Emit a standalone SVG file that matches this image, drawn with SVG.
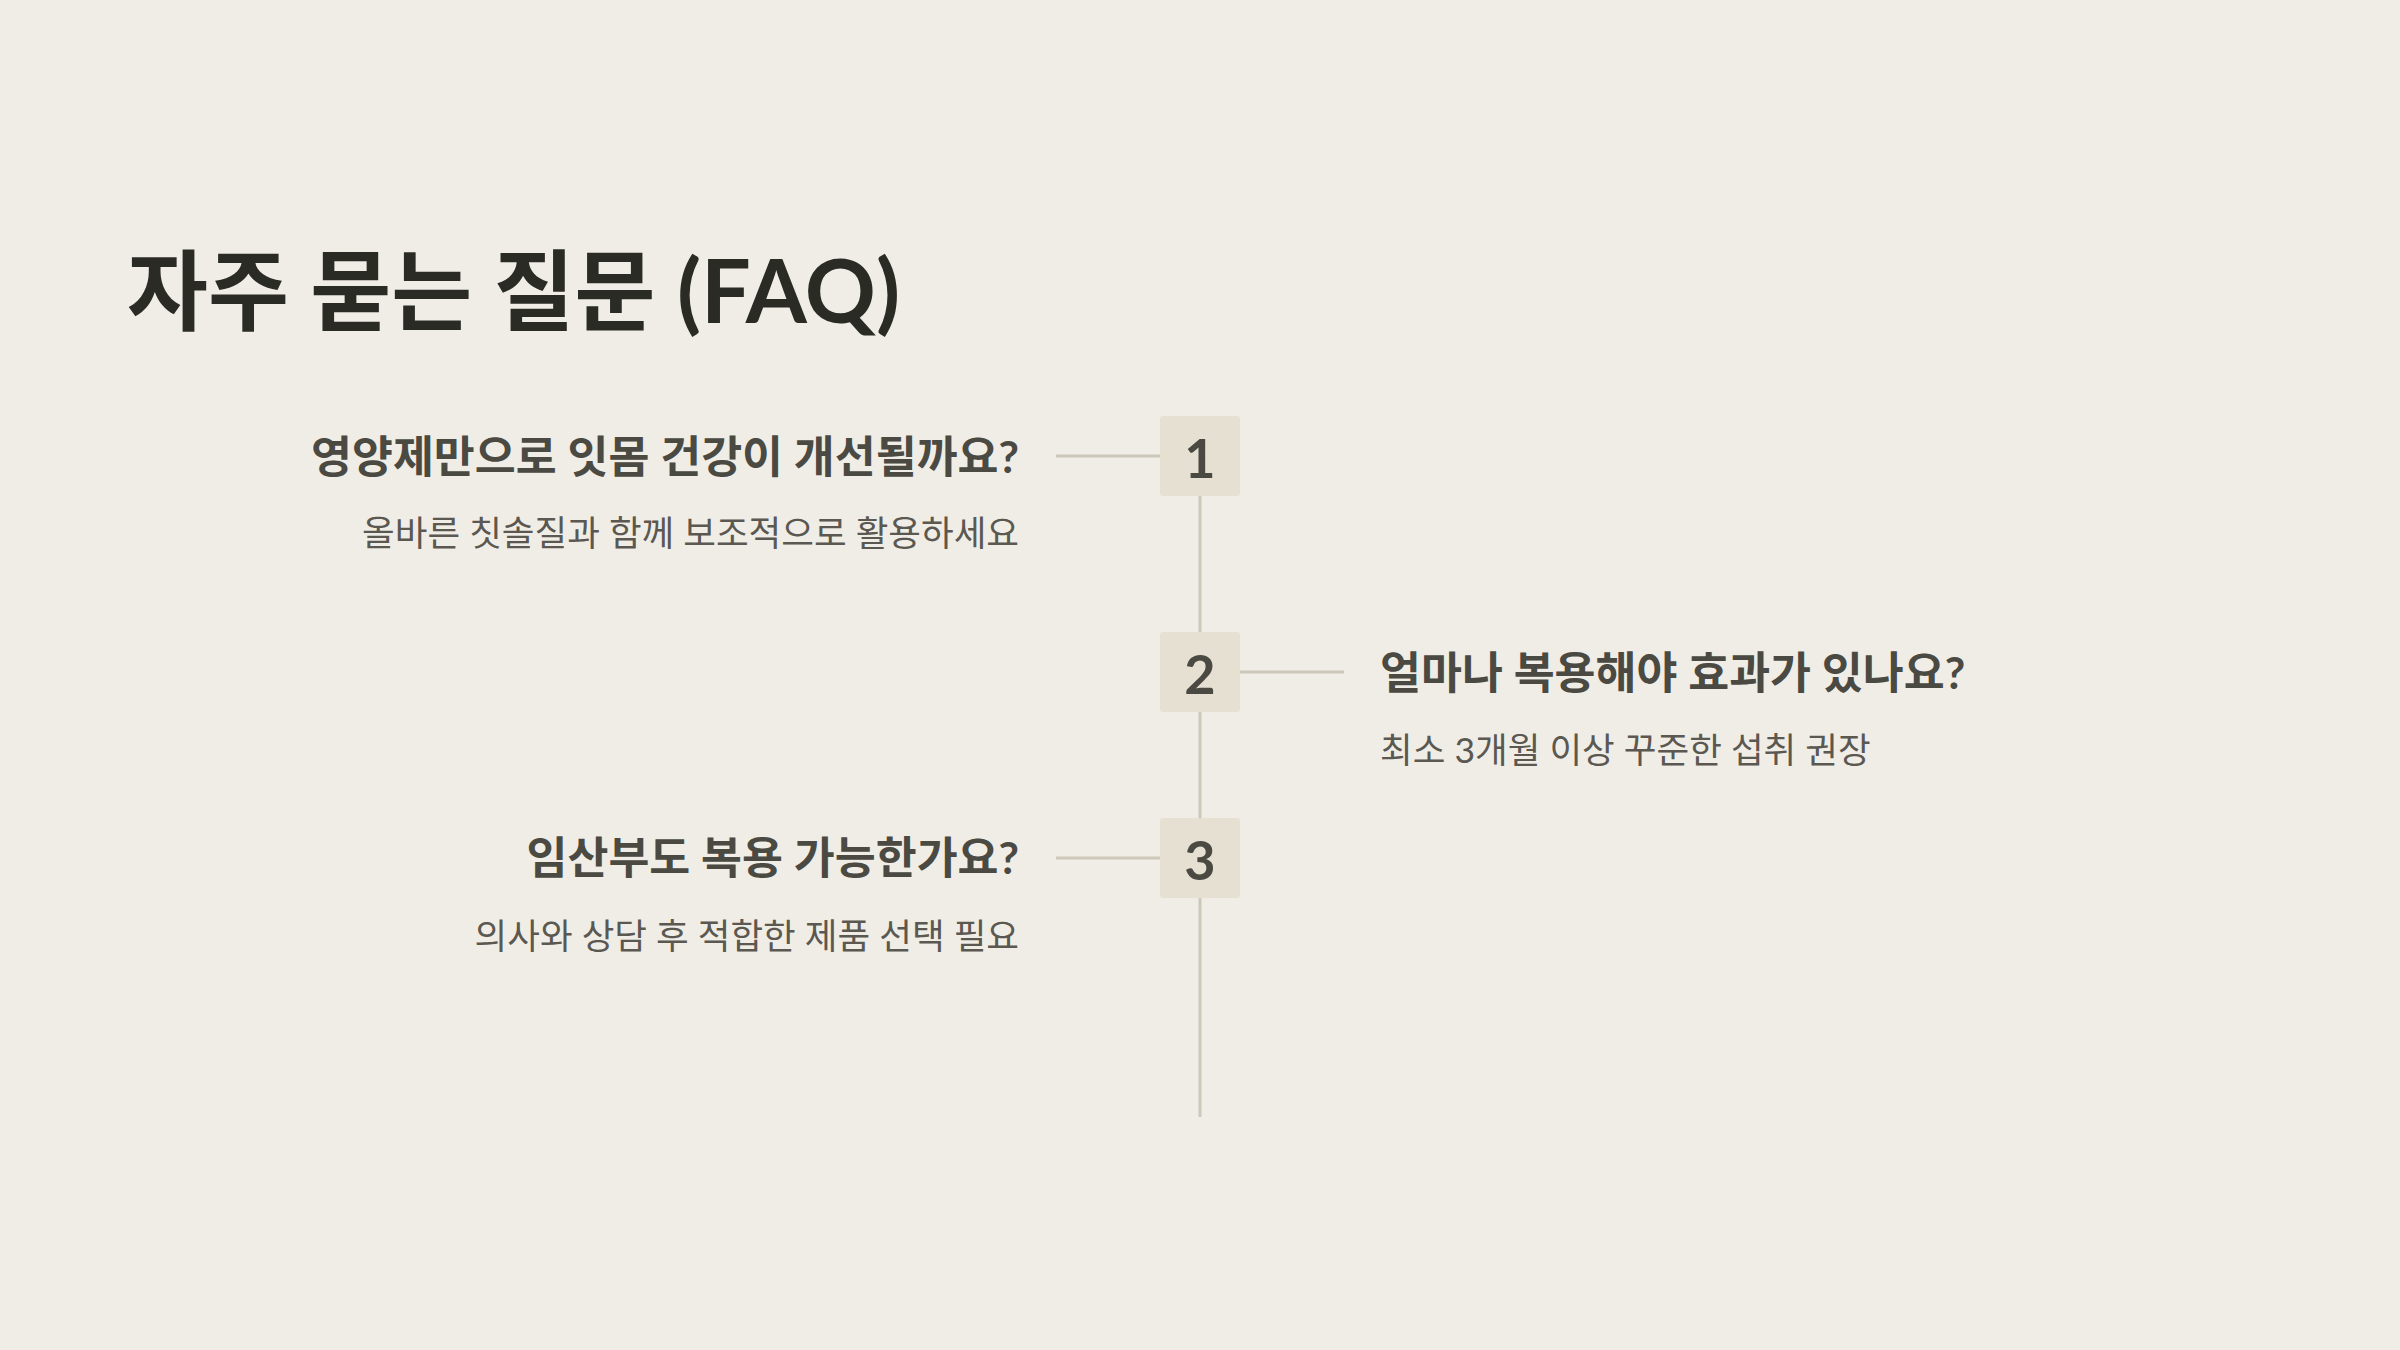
<svg xmlns="http://www.w3.org/2000/svg" width="2400" height="1350" viewBox="0 0 2400 1350">
<style>
.t{font-family:Lato,"Noto Sans CJK KR",sans-serif;}
.title{font-size:88px;font-weight:700;fill:#2b2b26;}
.q{font-size:44.5px;font-weight:700;fill:#4a4a43;}
.a{font-size:35.5px;font-weight:400;fill:#5a5851;}
.num{font-size:54px;font-weight:700;fill:#4a4a43;text-anchor:middle;}
.box{fill:#e6e0d3;}
.ln{stroke:#cdc8ba;stroke-width:3;fill:none;}
</style>
<rect width="2400" height="1350" fill="#f0ede6"/>
<text class="t title" x="127" y="323">자주 묻는 질문 (FAQ)</text>
<g id="connectors">
<line class="ln" x1="1200" y1="456" x2="1200" y2="1117"/>
<line class="ln" x1="1056" y1="456" x2="1160" y2="456"/>
<line class="ln" x1="1240" y1="672" x2="1344" y2="672"/>
<line class="ln" x1="1056" y1="858" x2="1160" y2="858"/>
</g>
<g id="node1">
<rect class="box" x="1160" y="416" width="80" height="80" rx="3"/>
<text class="t num" x="1200" y="478">1</text>
<text class="t q" x="1019" y="473" text-anchor="end">영양제만으로 잇몸 건강이 개선될까요?</text>
<text class="t a" x="1019" y="546" text-anchor="end">올바른 칫솔질과 함께 보조적으로 활용하세요</text>
</g>
<g id="node2">
<rect class="box" x="1160" y="632" width="80" height="80" rx="3"/>
<text class="t num" x="1200" y="694">2</text>
<text class="t q" x="1380" y="689">얼마나 복용해야 효과가 있나요?</text>
<text class="t a" x="1380" y="763">최소 3개월 이상 꾸준한 섭취 권장</text>
</g>
<g id="node3">
<rect class="box" x="1160" y="818" width="80" height="80" rx="3"/>
<text class="t num" x="1200" y="880">3</text>
<text class="t q" x="1019" y="874" text-anchor="end">임산부도 복용 가능한가요?</text>
<text class="t a" x="1019" y="949" text-anchor="end">의사와 상담 후 적합한 제품 선택 필요</text>
</g>
</svg>
